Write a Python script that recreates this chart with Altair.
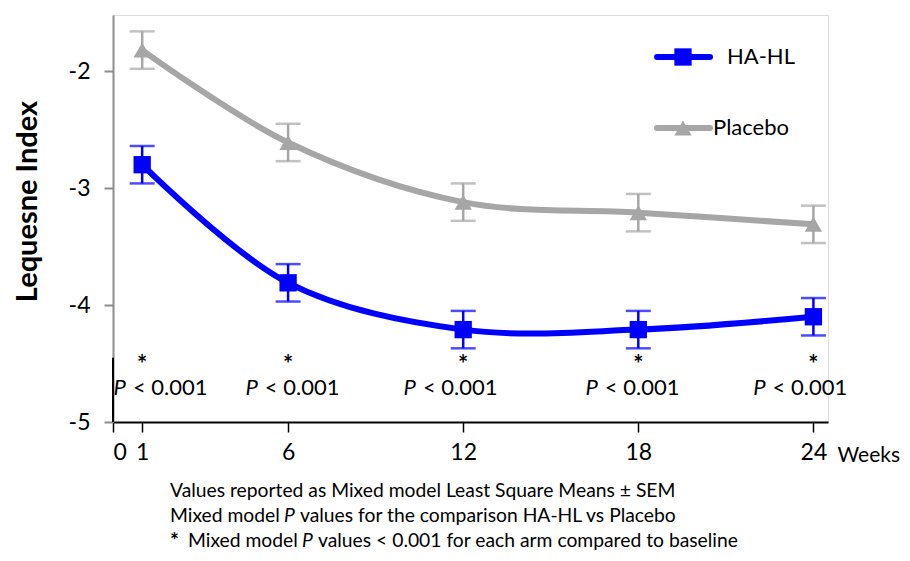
import altair as alt
import pandas as pd

# ---- data ----
weeks = [1, 6, 12, 18, 24]
ha_hl_mean = [-2.80, -3.81, -4.21, -4.21, -4.10]
ha_hl_sem = [0.16, 0.16, 0.16, 0.16, 0.16]
placebo_mean = [-1.82, -2.61, -3.12, -3.21, -3.31]
placebo_sem = [0.16, 0.16, 0.16, 0.16, 0.16]
series_names = ["HA-HL", "Placebo"]
series_colors = ["#0000FF", "#A6A6A6"]
series_shapes = ["square", "triangle-up"]

p_label_weeks = [0.51, 5.03, 10.45, 16.68, 22.43]
p_label_text = ["< 0.001", "< 0.001", "< 0.001", "< 0.001", "< 0.001"]
star_weeks = [1, 6, 12, 18, 24]

x_ticks = [0, 1, 6, 12, 18, 24]
y_ticks = [-5, -4, -3, -2]

foot1 = "Values reported as Mixed model Least Square Means \u00b1 SEM"
foot2 = ["Mixed model", "P", "values for the comparison HA-HL vs Placebo"]
foot3 = ["*", "Mixed model", "P", "values < 0.001 for each arm compared to baseline"]

FONT = "Lato"
W, H = 715, 407
YTITLE = "Lequesne Index"

rows = []
for name, means, sems in [("HA-HL", ha_hl_mean, ha_hl_sem), ("Placebo", placebo_mean, placebo_sem)]:
    for w, m, s in zip(weeks, means, sems):
        rows.append({"series": name, "week": w, "value": m, "lo": m - s, "hi": m + s})
df = pd.DataFrame(rows)

xscale = alt.Scale(domain=[0, 24.5], nice=False, zero=False)
yscale = alt.Scale(domain=[-5, -1.52], nice=False, zero=False)
cscale = alt.Scale(domain=series_names, range=series_colors)
sscale = alt.Scale(domain=series_names, range=series_shapes)

x_enc = alt.X("week:Q", scale=xscale, axis=alt.Axis(
    values=x_ticks, title="Weeks", titleX=724, titleY=33, titleAlign="left",
    titleBaseline="middle", titleAngle=0, titleFontWeight="normal", titleFontSize=21,
    labelFontSize=23, labelOverlap=False, labelPadding=9, tickSize=10, tickWidth=1.5,
    tickColor="black", domainColor="black", domainWidth=2, grid=False,
    labelColor="black", titleColor="black"))
y_axis = alt.Axis(values=y_ticks, title=YTITLE, labelExpr="'' + datum.value",
                  labelFontSize=23, labelPadding=14, tickSize=9, tickWidth=2,
                  tickColor="#8C8C8C", domainColor="#8C8C8C", domainWidth=2, grid=False,
                  titleFontSize=29, titleFontWeight="bold", titleX=-86, titleY=186,
                  titleAngle=-90, titleAlign="center", titleBaseline="middle",
                  labelColor="black", titleColor="black")

base = alt.Chart(df)

lines = base.mark_line(interpolate="catmull-rom", strokeWidth=6).encode(
    x=x_enc,
    y=alt.Y("value:Q", scale=yscale, axis=y_axis, title=YTITLE),
    color=alt.Color("series:N", scale=cscale, legend=None),
)

errbars = base.mark_errorbar(ticks={"size": 25, "thickness": 2.5}, thickness=2.5).encode(
    x=alt.X("week:Q", scale=xscale, title="Weeks"),
    y=alt.Y("lo:Q", scale=yscale, title=YTITLE),
    y2="hi:Q",
    color=alt.Color("series:N", scale=cscale, legend=None),
)

points = base.mark_point(filled=True, opacity=1, size=300).encode(
    x=alt.X("week:Q", scale=xscale, title="Weeks"),
    y=alt.Y("value:Q", scale=yscale, title=YTITLE),
    color=alt.Color("series:N", scale=cscale, legend=None),
    shape=alt.Shape("series:N", scale=sscale, legend=None),
)

# black lower segment of the y axis
seg_df = pd.DataFrame({"x": [0], "y1": [-4.45], "y2": [-5]})
yseg = alt.Chart(seg_df).mark_rule(color="black", strokeWidth=2).encode(
    x=alt.X("x:Q", scale=xscale, title="Weeks"),
    y=alt.Y("y1:Q", scale=yscale, title=YTITLE), y2="y2:Q")

# P value annotations
pdf = pd.DataFrame({"pw": p_label_weeks, "txt": p_label_text, "sw": star_weeks})
p_italic = alt.Chart(pdf).mark_text(text="P", fontStyle="italic", fontSize=22, align="right",
                                    baseline="middle", font=FONT, dx=-2).encode(
    x=alt.X("pw:Q", scale=xscale, title="Weeks"), y=alt.value(373))
p_rest = alt.Chart(pdf).mark_text(fontSize=22, align="left", baseline="middle", font=FONT, dx=5).encode(
    x=alt.X("pw:Q", scale=xscale, title="Weeks"), y=alt.value(373), text="txt:N")
stars = alt.Chart(pdf).mark_text(text="*", fontSize=24, fontWeight="bold", align="center",
                                 baseline="middle", font=FONT).encode(
    x=alt.X("sw:Q", scale=xscale, title="Weeks"), y=alt.value(351))

# manual legend
one = pd.DataFrame({"k": [0]})
def legend_entry(name, color, shape, ly, tx):
    r = alt.Chart(one).mark_rule(color=color, strokeWidth=6, strokeCap="round").encode(
        x=alt.value(544), x2=alt.value(597), y=alt.value(ly))
    p = alt.Chart(one).mark_point(filled=True, opacity=1, color=color, shape=shape, size=300).encode(
        x=alt.value(570), y=alt.value(ly))
    t = alt.Chart(one).mark_text(text=name, fontSize=22, align="left", baseline="middle",
                                 font=FONT, color="black").encode(x=alt.value(tx), y=alt.value(ly))
    return r + p + t

leg = legend_entry("HA-HL", series_colors[0], "square", 42, 614) + \
      legend_entry("Placebo", series_colors[1], "triangle-up", 113, 600)

# footnotes
FS = 19.3
def seg(text, x, y, italic=False, bold=False, size=FS):
    kw = dict(text=text, fontSize=size, align="left", baseline="middle", font=FONT, color="black")
    if italic:
        kw["fontStyle"] = "italic"
    if bold:
        kw["fontWeight"] = "bold"
    return alt.Chart(one).mark_text(**kw).encode(x=alt.value(x), y=alt.value(y))

foot = seg(foot1, 57, 476) + \
    seg(foot2[0], 57, 501) + seg(foot2[1], 171, 501, italic=True) + seg(foot2[2], 187, 501) + \
    seg(foot3[0], 57, 527, bold=True, size=21) + seg(foot3[1], 75, 526) + \
    seg(foot3[2], 189, 526, italic=True) + seg(foot3[3], 205, 526)

chart = alt.layer(lines, errbars, points, yseg, stars, p_italic, p_rest, leg, foot).properties(
    width=W, height=H,
    autosize=alt.AutoSizeParams(type="none"),
    padding={"left": 105, "top": 7, "right": 74, "bottom": 131},
).configure_view(stroke=None).configure(font=FONT)

chart.save("out.html", embed_options={"renderer": "svg", "actions": False})
